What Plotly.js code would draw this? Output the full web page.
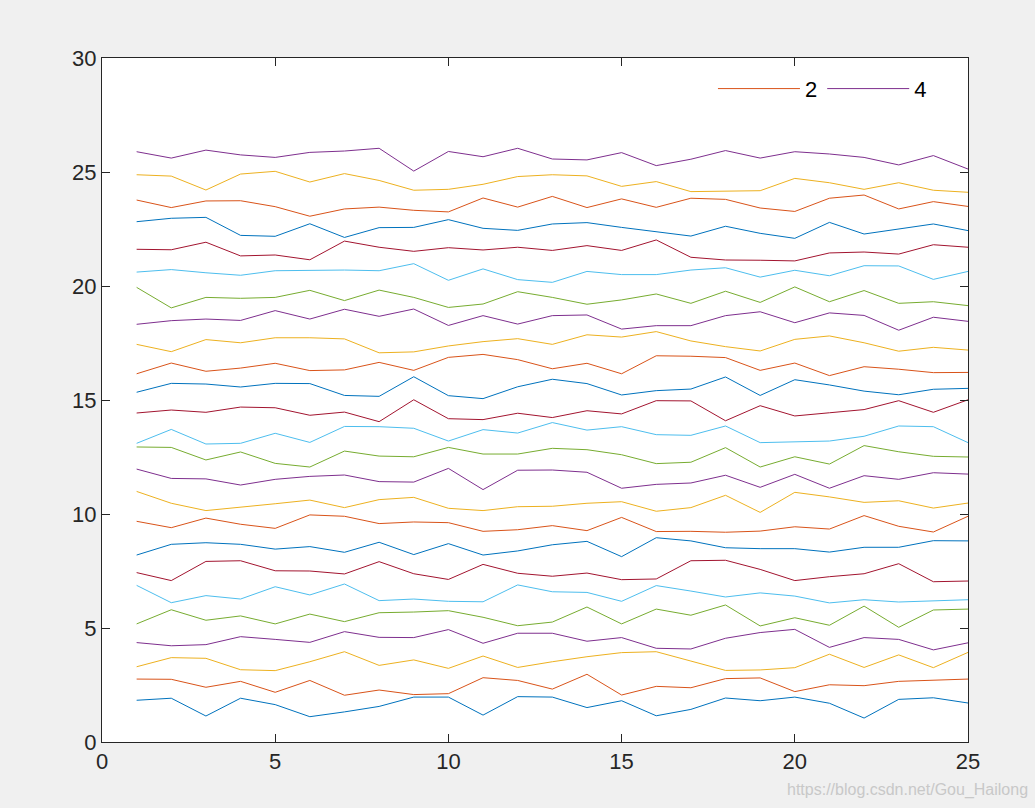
<!DOCTYPE html>
<html>
<head>
<meta charset="utf-8">
<script src="https://cdn.plot.ly/plotly-3.0.1.min.js"></script>
<style>html,body{margin:0;padding:0;background:#F0F0F0;}#chart{width:1035px;height:808px;}</style>
</head>
<body>
<div id="chart"></div>
<script>
const xValues = [1,2,3,4,5,6,7,8,9,10,11,12,13,14,15,16,17,18,19,20,21,22,23,24,25];

const y01 = [1.83,1.92,1.14,1.92,1.64,1.11,1.32,1.56,1.97,1.97,1.18,1.99,1.97,1.51,1.81,1.15,1.43,1.93,1.81,1.97,1.70,1.05,1.87,1.94,1.71];
const y02 = [2.76,2.75,2.40,2.66,2.18,2.70,2.05,2.28,2.08,2.12,2.82,2.70,2.32,2.97,2.06,2.44,2.38,2.78,2.81,2.21,2.51,2.47,2.66,2.72,2.76];
const y03 = [3.30,3.70,3.67,3.17,3.13,3.52,3.96,3.36,3.60,3.23,3.77,3.27,3.52,3.74,3.92,3.96,3.55,3.14,3.16,3.26,3.85,3.27,3.82,3.26,3.93];
const y04 = [4.36,4.22,4.27,4.62,4.50,4.37,4.84,4.59,4.58,4.93,4.33,4.77,4.77,4.42,4.58,4.11,4.08,4.55,4.80,4.94,4.15,4.58,4.50,4.04,4.35];
const y05 = [5.18,5.80,5.34,5.53,5.18,5.61,5.28,5.67,5.70,5.76,5.47,5.10,5.26,5.92,5.18,5.83,5.56,6.01,5.09,5.45,5.12,5.96,5.03,5.79,5.83];
const y06 = [6.87,6.11,6.42,6.27,6.81,6.45,6.93,6.20,6.27,6.17,6.15,6.89,6.59,6.56,6.17,6.86,6.62,6.36,6.54,6.40,6.10,6.24,6.14,6.20,6.24];
const y07 = [7.43,7.08,7.92,7.95,7.51,7.50,7.37,7.91,7.38,7.13,7.79,7.40,7.27,7.41,7.12,7.15,7.95,7.97,7.57,7.08,7.25,7.38,7.82,7.03,7.06];
const y08 = [8.20,8.67,8.74,8.67,8.46,8.57,8.32,8.76,8.22,8.70,8.20,8.38,8.65,8.80,8.13,8.96,8.82,8.52,8.48,8.48,8.33,8.54,8.54,8.83,8.82];
const y09 = [9.68,9.40,9.82,9.55,9.37,9.96,9.90,9.58,9.65,9.62,9.24,9.31,9.49,9.27,9.85,9.23,9.24,9.20,9.25,9.44,9.34,9.93,9.46,9.21,9.90];
const y10 = [10.99,10.47,10.15,10.29,10.45,10.61,10.28,10.63,10.73,10.25,10.15,10.32,10.34,10.47,10.54,10.12,10.28,10.82,10.07,10.95,10.75,10.51,10.58,10.26,10.48];
const y11 = [11.97,11.56,11.54,11.27,11.52,11.65,11.71,11.42,11.40,12.00,11.07,11.92,11.93,11.83,11.13,11.30,11.36,11.70,11.17,11.74,11.13,11.68,11.52,11.81,11.75];
const y12 = [12.94,12.92,12.37,12.72,12.22,12.06,12.76,12.54,12.51,12.92,12.63,12.63,12.88,12.82,12.60,12.21,12.27,12.91,12.06,12.51,12.19,13.00,12.73,12.53,12.50];
const y13 = [13.10,13.71,13.07,13.10,13.54,13.14,13.84,13.83,13.76,13.20,13.70,13.55,14.01,13.68,13.83,13.48,13.45,13.86,13.13,13.17,13.20,13.41,13.86,13.83,13.13];
const y14 = [14.43,14.56,14.46,14.69,14.66,14.33,14.47,14.05,15.01,14.18,14.14,14.42,14.23,14.53,14.39,14.97,14.96,14.09,14.75,14.30,14.44,14.58,14.97,14.46,15.01];
const y15 = [15.34,15.73,15.70,15.57,15.73,15.72,15.20,15.16,16.02,15.19,15.06,15.58,15.91,15.72,15.22,15.41,15.48,16.01,15.20,15.89,15.66,15.39,15.23,15.47,15.51];
const y16 = [16.15,16.62,16.26,16.40,16.61,16.29,16.32,16.65,16.30,16.87,17.00,16.77,16.37,16.61,16.15,16.94,16.92,16.86,16.30,16.62,16.07,16.46,16.35,16.20,16.21];
const y17 = [17.44,17.12,17.65,17.51,17.73,17.73,17.68,17.07,17.11,17.37,17.56,17.69,17.44,17.86,17.76,18.00,17.59,17.34,17.15,17.66,17.81,17.51,17.14,17.31,17.19];
const y18 = [18.32,18.48,18.55,18.49,18.92,18.55,18.98,18.67,18.99,18.27,18.70,18.33,18.70,18.73,18.11,18.26,18.26,18.70,18.87,18.39,18.82,18.71,18.06,18.63,18.45];
const y19 = [19.94,19.04,19.50,19.46,19.50,19.81,19.36,19.82,19.50,19.06,19.21,19.75,19.50,19.20,19.39,19.65,19.24,19.77,19.28,19.96,19.31,19.80,19.24,19.31,19.14];
const y20 = [20.61,20.72,20.58,20.47,20.67,20.69,20.70,20.67,20.98,20.25,20.75,20.28,20.16,20.64,20.50,20.50,20.70,20.80,20.39,20.69,20.45,20.89,20.88,20.29,20.64];
const y21 = [21.61,21.59,21.92,21.32,21.36,21.15,21.97,21.70,21.52,21.68,21.58,21.70,21.56,21.77,21.56,22.02,21.26,21.14,21.13,21.10,21.45,21.49,21.40,21.81,21.70];
const y22 = [22.82,22.97,23.01,22.22,22.18,22.73,22.13,22.56,22.57,22.91,22.53,22.44,22.72,22.78,22.57,22.38,22.19,22.62,22.31,22.09,22.79,22.28,22.49,22.72,22.43];
const y23 = [23.77,23.44,23.73,23.74,23.48,23.06,23.38,23.46,23.32,23.25,23.86,23.46,23.93,23.44,23.82,23.45,23.85,23.80,23.42,23.27,23.85,23.99,23.38,23.70,23.49];
const y24 = [24.88,24.82,24.21,24.91,25.03,24.56,24.93,24.63,24.20,24.24,24.46,24.80,24.88,24.83,24.37,24.58,24.14,24.17,24.18,24.72,24.53,24.24,24.53,24.20,24.11];
const y25 = [25.89,25.61,25.96,25.75,25.64,25.86,25.92,26.04,25.04,25.90,25.67,26.04,25.57,25.53,25.85,25.28,25.56,25.94,25.61,25.89,25.79,25.64,25.31,25.72,25.13];

const seriesList = [y01,y02,y03,y04,y05,y06,y07,y08,y09,y10,y11,y12,y13,y14,y15,y16,y17,y18,y19,y20,y21,y22,y23,y24,y25];
const palette = ['#0072BD','#D95319','#EDB120','#7E2F8E','#77AC30','#4DBEEE','#A2142F'];
const legendNames = {2: '2', 4: '4'};
const watermark = 'https://blog.csdn.net/Gou_Hailong';

const traces = seriesList.map((ys, i) => {
  const idx = i + 1;
  const inLegend = legendNames[idx] !== undefined;
  return {
    x: xValues, y: ys, type: 'scatter', mode: 'lines',
    name: inLegend ? legendNames[idx] : String(idx),
    showlegend: inLegend,
    line: {color: palette[i % palette.length], width: 1},
    hoverinfo: 'x+y'
  };
});

const axisFont = {family: '"Liberation Sans", Arial, sans-serif', size: 22, color: '#262626'};
const baseAxis = {
  showgrid: false, zeroline: false, showline: true, mirror: 'ticks',
  linecolor: '#262626', linewidth: 1, ticks: 'inside', ticklen: 8,
  tickcolor: '#262626', tickwidth: 1, tickfont: axisFont, dtick: 5, tick0: 0
};

const layout = {
  width: 1035, height: 808,
  paper_bgcolor: '#F0F0F0', plot_bgcolor: '#FFFFFF',
  margin: {l: 102, r: 67, t: 58, b: 66},
  xaxis: Object.assign({}, baseAxis, {range: [0, 25]}),
  yaxis: Object.assign({}, baseAxis, {range: [0, 30]}),
  showlegend: true,
  legend: {
    orientation: 'h', x: 0.7055, y: 0.955, xanchor: 'left', yanchor: 'middle',
    bgcolor: 'rgba(0,0,0,0)', borderwidth: 0,
    font: {family: '"Liberation Sans", Arial, sans-serif', size: 22, color: '#000000'},
    itemwidth: 82
  },
  annotations: [{
    text: watermark, xref: 'paper', yref: 'paper', x: 1.0716, y: -0.07,
    xanchor: 'right', yanchor: 'middle', showarrow: false,
    font: {family: '"Liberation Sans", Arial, sans-serif', size: 16, color: '#C8C8C8'}
  }]
};

Plotly.newPlot('chart', traces, layout, {displayModeBar: false, staticPlot: true});
</script>
</body>
</html>
